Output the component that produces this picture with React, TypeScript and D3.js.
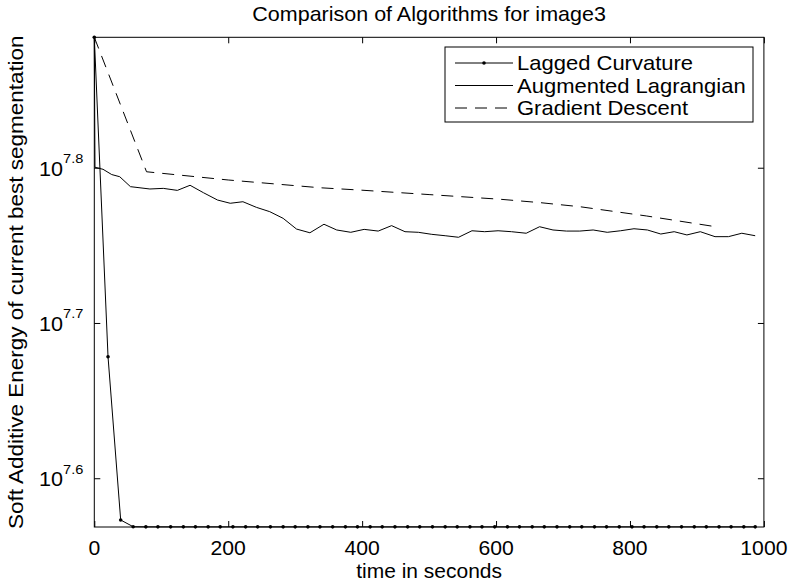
import React, { useEffect, useRef } from 'react';
import * as d3 from 'd3';

// ---- Data (values are log10 of the energy) ----
const lcTime = [0, 20.5, 39.4, 58, 77, 95, 114, 133, 151, 170, 188, 207, 226, 244, 263, 282, 300, 319, 337, 356, 375, 393, 412, 430, 449, 468, 486, 505, 524, 542, 561, 579, 598, 617, 635, 654, 672, 691, 710, 728, 747, 765, 784, 803, 821, 840, 858, 877, 896, 914, 933, 951, 970, 987];
const lcValue = [7.884, 7.6783, 7.5731, 7.5688, 7.5687, 7.5687, 7.5687, 7.5687, 7.5687, 7.5687, 7.5687, 7.5687, 7.5687, 7.5687, 7.5687, 7.5687, 7.5687, 7.5687, 7.5687, 7.5687, 7.5687, 7.5687, 7.5687, 7.5687, 7.5687, 7.5687, 7.5687, 7.5687, 7.5687, 7.5687, 7.5687, 7.5687, 7.5687, 7.5687, 7.5687, 7.5687, 7.5687, 7.5687, 7.5687, 7.5687, 7.5687, 7.5687, 7.5687, 7.5687, 7.5687, 7.5687, 7.5687, 7.5687, 7.5687, 7.5687, 7.5687, 7.5687, 7.5687, 7.5687];

const alTime = [0, 1, 8, 13, 26, 38, 54, 83, 103, 124, 143, 163, 184, 203, 222, 242, 262, 282, 302, 322, 343, 362, 383, 403, 424, 444, 464, 484, 504, 524, 544, 564, 583, 603, 623, 645, 665, 685, 705, 725, 745, 766, 786, 806, 826, 846, 866, 885, 905, 927, 947, 967, 987];
const alValue = [7.884, 7.8003, 7.7995, 7.799, 7.7956, 7.7942, 7.7878, 7.7863, 7.7867, 7.7854, 7.7887, 7.7839, 7.7792, 7.7771, 7.7781, 7.7745, 7.7717, 7.7674, 7.7605, 7.7581, 7.7636, 7.7599, 7.7584, 7.7603, 7.7592, 7.7627, 7.7588, 7.7584, 7.7571, 7.7562, 7.7552, 7.7594, 7.7588, 7.7594, 7.7588, 7.7578, 7.762, 7.7599, 7.7592, 7.7592, 7.7599, 7.7584, 7.7594, 7.7607, 7.7599, 7.7573, 7.7588, 7.7567, 7.7588, 7.7556, 7.7556, 7.7578, 7.7562];

const gdTime = [0, 78, 200, 337, 397, 500, 606, 666, 725, 825, 928];
const gdValue = [7.884, 7.7974, 7.7921, 7.7871, 7.7856, 7.7827, 7.7797, 7.7775, 7.7749, 7.7689, 7.762];

const xTicks = [0, 200, 400, 600, 800, 1000];
const yTicks = [7.6, 7.7, 7.8];
const yTickLabels = ['7.6', '7.7', '7.8'];

const seriesNames = ['Lagged Curvature', 'Augmented Lagrangian', 'Gradient Descent'];
const title = 'Comparison of Algorithms for image3';
const xLabel = 'time in seconds';
const yLabel = 'Soft Additive Energy of current best segmentation';

const X_DOMAIN = [0, 1000];
const Y_DOMAIN = [7.5686, 7.884];

const W = 791;
const H = 585;
const M = { left: 94.3, right: 763.9, top: 37.3, bottom: 527 };
const FONT = '"Liberation Sans", Arial, Helvetica, sans-serif';
const FS = 20;

type Sel = d3.Selection<any, unknown, null, undefined>;

function addText(parent: Sel, x: number, y: number, str: string, size: number, sx: number,
  anchor: string, rotate = 0) {
  const g = parent.append('g')
    .attr('transform', `translate(${x},${y}) rotate(${rotate}) scale(${sx},1)`);
  return g.append('text')
    .attr('x', 0).attr('y', 0)
    .attr('font-family', FONT).attr('font-size', size)
    .attr('text-anchor', anchor).attr('fill', '#000').text(str);
}

export default function App() {
  const ref = useRef<SVGSVGElement>(null);

  useEffect(() => {
    const svg = d3.select(ref.current) as unknown as Sel;
    svg.selectAll('*').remove();

    const x = d3.scaleLinear().domain(X_DOMAIN).range([M.left, M.right]);
    const y = d3.scaleLinear().domain(Y_DOMAIN).range([M.bottom, M.top]);

    svg.append('rect').attr('x', 0).attr('y', 0).attr('width', W).attr('height', H).attr('fill', '#fff');

    svg.append('defs').append('clipPath').attr('id', 'plotclip')
      .append('rect').attr('x', M.left - 3).attr('y', M.top - 3)
      .attr('width', M.right - M.left + 6).attr('height', M.bottom - M.top + 6);

    // axes box
    svg.append('rect')
      .attr('x', M.left).attr('y', M.top)
      .attr('width', M.right - M.left).attr('height', M.bottom - M.top)
      .attr('fill', 'none').attr('stroke', '#000').attr('stroke-width', 1);

    const tickLen = 6;
    const bottom = svg.append('g').attr('transform', `translate(0,${M.bottom})`)
      .call(d3.axisBottom(x).tickValues(xTicks).tickSize(-tickLen).tickFormat(() => ''));
    bottom.select('.domain').remove();
    bottom.selectAll('line').attr('stroke', '#000');

    const top = svg.append('g').attr('transform', `translate(0,${M.top})`)
      .call(d3.axisTop(x).tickValues(xTicks).tickSize(-tickLen).tickFormat(() => ''));
    top.select('.domain').remove();
    top.selectAll('line').attr('stroke', '#000');

    const left = svg.append('g').attr('transform', `translate(${M.left},0)`)
      .call(d3.axisLeft(y).tickValues(yTicks).tickSize(-tickLen).tickFormat(() => ''));
    left.select('.domain').remove();
    left.selectAll('line').attr('stroke', '#000');

    const right = svg.append('g').attr('transform', `translate(${M.right},0)`)
      .call(d3.axisRight(y).tickValues(yTicks).tickSize(-tickLen).tickFormat(() => ''));
    right.select('.domain').remove();
    right.selectAll('line').attr('stroke', '#000');

    // x tick labels
    const xl = svg.append('g');
    xTicks.forEach(t => {
      addText(xl, x(t), 555, d3.format('d')(t), FS, 1.06, 'middle');
    });

    // y tick labels 10^x
    const yl = svg.append('g');
    yTicks.forEach((v, i) => {
      const t = addText(yl, M.left - 11, y(v) + 8, '', FS, 1.08, 'end');
      t.append('tspan').attr('font-size', FS).text('10');
      t.append('tspan').attr('font-size', 13.5).attr('dy', -12.5).text(yTickLabels[i]);
    });

    // lines
    const line = d3.line<[number, number]>().x(d => x(d[0])).y(d => y(d[1]));
    const plot = svg.append('g').attr('clip-path', 'url(#plotclip)');

    const gdData = gdTime.map((t, i) => [t, gdValue[i]] as [number, number]);
    const alData = alTime.map((t, i) => [t, alValue[i]] as [number, number]);
    const lcData = lcTime.map((t, i) => [t, lcValue[i]] as [number, number]);

    plot.append('path').attr('d', line(gdData)).attr('fill', 'none')
      .attr('stroke', '#000').attr('stroke-width', 1).attr('stroke-dasharray', '12,8');
    plot.append('path').attr('d', line(alData)).attr('fill', 'none')
      .attr('stroke', '#000').attr('stroke-width', 1);
    plot.append('path').attr('d', line(lcData)).attr('fill', 'none')
      .attr('stroke', '#000').attr('stroke-width', 1);
    plot.selectAll('circle.lc').data(lcData).enter().append('circle')
      .attr('class', 'lc').attr('cx', d => x(d[0])).attr('cy', d => y(d[1]))
      .attr('r', 1.8).attr('fill', '#000');

    // legend
    const lg = svg.append('g');
    const lx = 445, ly = 47, lw = 308, lh = 75;
    lg.append('rect').attr('x', lx).attr('y', ly).attr('width', lw).attr('height', lh)
      .attr('fill', '#fff').attr('stroke', '#000').attr('stroke-width', 1);
    const rowY = [63, 85.5, 108];
    seriesNames.forEach((name, i) => {
      const ry = rowY[i];
      const l = lg.append('line').attr('x1', 455).attr('x2', 513).attr('y1', ry).attr('y2', ry)
        .attr('stroke', '#000').attr('stroke-width', 1);
      if (i === 2) l.attr('stroke-dasharray', '12,8');
      if (i === 0) lg.append('circle').attr('cx', 484).attr('cy', ry).attr('r', 1.8).attr('fill', '#000');
      addText(lg, 517, ry + 7.3, name, FS, 1.1, 'start');
    });

    // title and labels
    addText(svg, (M.left + M.right) / 2, 20.5, title, FS, 1.075, 'middle');
    addText(svg, (M.left + M.right) / 2, 577.5, xLabel, FS, 1.05, 'middle');
    addText(svg, 23, (M.top + M.bottom) / 2, yLabel, FS, 1.125, 'middle', -90);
  }, []);

  return (
    <svg ref={ref} width={W} height={H}
      style={{ position: 'absolute', left: 0, top: 0, display: 'block' }} />
  );
}
